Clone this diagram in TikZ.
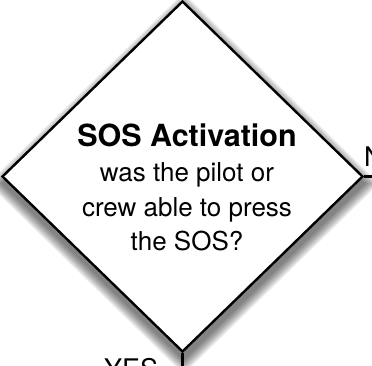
\documentclass[tikz,border=0pt]{standalone}
\usepackage{fontspec}
\setmainfont{TeX Gyre Heros}
\usetikzlibrary{shapes.geometric,backgrounds}
\begin{document}
\begin{tikzpicture}[x=1pt,y=1pt,
  decision/.style={diamond, draw=black, line width=2.4pt, fill=white, inner sep=0pt,
    minimum width=361pt, minimum height=351pt},
  shade layer/.style={fill=black, opacity=0.06},
  flow/.style={draw=black, line width=3pt},
  lbl/.style={font=\fontsize{27}{32}\selectfont, inner sep=0pt},
  body/.style={font=\fontsize{26}{34.7}\selectfont, align=center, inner sep=0pt}]
\useasboundingbox (0,0) rectangle (372,-366);
\clip (0,0) rectangle (372,-366);
\node[decision] (dec) at (182.5,-176.5) {};
\begin{scope}[on background layer]
\foreach \r in {0,1,...,10}{
  \fill[shade layer] ([shift={(1,-7+1.41*\r)}]dec.north) -- ([shift={(1+1.41*\r,-7)}]dec.east)
    -- ([shift={(1,-7-1.41*\r)}]dec.south) -- ([shift={(1-1.41*\r,-7)}]dec.west) -- cycle;
}
\end{scope}
\node[body, anchor=base] (txt) at (187,-251)
  {{\fontsize{30.5}{35}\selectfont\bfseries SOS Activation}\\was the pilot or\\crew able to press\\the SOS?};
\coordinate (nend) at ([xshift=20pt]dec.east);
\coordinate (yend) at ([yshift=-20pt]dec.south);
\draw[flow] (dec.east) -- (nend);
\draw[flow] (dec.south) -- (yend);
\node[lbl, anchor=base west] (nlab) at (364,-167) {N};
\node[lbl, anchor=base west] (ylab) at (104,-378) {YES};
\end{tikzpicture}
\end{document}
